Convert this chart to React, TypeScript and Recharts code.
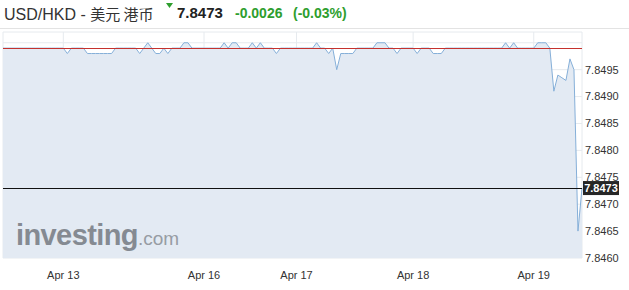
import { AreaChart, Area, XAxis, YAxis, CartesianGrid, ReferenceLine } from 'recharts';

// USD/HKD intraday quotes, one value per sample (left to right)
const prices = [
  7.8499, 7.8499, 7.8499, 7.8499, 7.8499, 7.8499, 7.8499, 7.8499, 7.8499, 7.8499,
  7.8499, 7.8499, 7.8499, 7.8499, 7.8499, 7.8499, 7.8498, 7.8499, 7.8499, 7.8499,
  7.8499, 7.8498, 7.8498, 7.8498, 7.8498, 7.8498, 7.8498, 7.8498, 7.8499, 7.8499,
  7.8499, 7.8499, 7.8499, 7.8499, 7.8498, 7.8499, 7.85, 7.8499, 7.8498, 7.8498,
  7.8499, 7.8498, 7.8499, 7.8499, 7.8499, 7.85, 7.85, 7.8499, 7.8499, 7.8499,
  7.8499, 7.8499, 7.8499, 7.8499, 7.8499, 7.85, 7.8499, 7.85, 7.85, 7.8499,
  7.8499, 7.8499, 7.85, 7.8499, 7.85, 7.8499, 7.8499, 7.8499, 7.8498, 7.8499,
  7.8499, 7.8499, 7.8499, 7.8499, 7.8499, 7.8499, 7.8499, 7.8499, 7.85, 7.8499,
  7.8499, 7.8498, 7.8499, 7.8495, 7.8498, 7.8498, 7.8498, 7.8498, 7.8499, 7.8499,
  7.8499, 7.8499, 7.8499, 7.85, 7.85, 7.85, 7.8499, 7.8499, 7.8498, 7.8499,
  7.8499, 7.8499, 7.8499, 7.8498, 7.8499, 7.8499, 7.8499, 7.8498, 7.8498, 7.8498,
  7.8499, 7.8499, 7.8499, 7.8499, 7.8499, 7.8499, 7.8499, 7.8499, 7.8499, 7.8499,
  7.8499, 7.8499, 7.8499, 7.8499, 7.8499, 7.85, 7.8499, 7.85, 7.8499, 7.8499,
  7.8499, 7.8499, 7.8499, 7.85, 7.85, 7.85, 7.8499, 7.8491, 7.8494, 7.84935,
  7.8493, 7.8497, 7.8495, 7.8465, 7.8473,
];

const dayLabels = ['Apr 13', 'Apr 16', 'Apr 17', 'Apr 18', 'Apr 19'];
const dayStarts = [15, 50, 73, 102, 132];
const priceTicks = [7.846, 7.8465, 7.847, 7.8475, 7.848, 7.8485, 7.849, 7.8495, 7.85];

const prevClose = 7.8499;
const lastPrice = 7.8473;
const change = '-0.0026';
const changePct = '(-0.03%)';

const FONT = "Arial, 'Liberation Sans', sans-serif";
const GREEN = '#2e9e2e';

const data = prices.map((v, i) => ({ i, v }));

// dark price tag on the right axis
const PriceTag = (props: any) => {
  const vb = props.viewBox || {};
  const x = vb.x + vb.width;
  const y = vb.y;
  return (
    <g>
      <rect x={x + 1} y={y - 7} width={36} height={14} fill="#262626" />
      <text x={x + 19} y={y + 4} textAnchor="middle" fill="#fff" fontSize={11} fontWeight="bold" fontFamily={FONT}>
        {lastPrice.toFixed(4)}
      </text>
    </g>
  );
};

export default function App() {
  return (
    <div style={{ position: 'absolute', left: 0, top: 0, width: 629, height: 290, background: '#fff', fontFamily: FONT }}>
      {/* header */}
      <div style={{ position: 'absolute', left: 0, top: 0, width: 629, height: 28, borderBottom: '1px solid #e3e3e3' }}>
        <span style={{ position: 'absolute', left: 4, top: 3, fontSize: 16, color: '#333', whiteSpace: 'nowrap' }}>
          USD/HKD - <span style={{ fontFamily: "'Noto Sans CJK SC', sans-serif", fontSize: 15 }}>美元 港币</span>
        </span>
        <svg style={{ position: 'absolute', left: 166, top: 3 }} width={7} height={6}>
          <polygon points="0,0 7,0 3.5,5" fill={GREEN} />
        </svg>
        <span style={{ position: 'absolute', left: 177, top: 4, fontSize: 15, fontWeight: 'bold', color: '#222' }}>
          {lastPrice.toFixed(4)}
        </span>
        <span style={{ position: 'absolute', left: 235, top: 5, fontSize: 14, fontWeight: 'bold', color: GREEN }}>{change}</span>
        <span style={{ position: 'absolute', left: 293, top: 5, fontSize: 14, fontWeight: 'bold', color: GREEN }}>{changePct}</span>
      </div>

      <AreaChart
        width={629}
        height={290}
        data={data}
        margin={{ top: 32, right: 0, bottom: 0, left: 3 }}
        style={{ position: 'absolute', left: 0, top: 0 }}
      >
        <CartesianGrid stroke="#e6eaee" />
        <XAxis
          dataKey="i"
          type="number"
          domain={[0, prices.length - 1]}
          ticks={dayStarts}
          tickFormatter={(v: number) => dayLabels[dayStarts.indexOf(v)] ?? ''}
          axisLine={false}
          tickLine={false}
          tickMargin={7}
          height={32}
          tick={{ fontSize: 11, fill: '#333', fontFamily: FONT }}
        />
        <YAxis
          orientation="right"
          domain={[7.846, 7.8502]}
          ticks={priceTicks}
          allowDataOverflow
          tickFormatter={(v: number) => (v >= 7.84999 ? '' : v.toFixed(4))}
          axisLine={false}
          tickLine={false}
          tickSize={0}
          tickMargin={3}
          width={47}
          tick={{ fontSize: 11, fill: '#333', fontFamily: FONT, textAnchor: 'start' }}
        />
        <Area
          type="linear"
          dataKey="v"
          stroke="#85afd8"
          strokeWidth={1}
          fill="#e3eaf3"
          fillOpacity={1}
          isAnimationActive={false}
        />
        <ReferenceLine y={prevClose} stroke="#c5322e" strokeWidth={1} shapeRendering="crispEdges" />
        <ReferenceLine y={lastPrice} stroke="#111" strokeWidth={1} shapeRendering="crispEdges" label={<PriceTag />} />
      </AreaChart>

      {/* watermark */}
      <div style={{ position: 'absolute', left: 16, top: 219, whiteSpace: 'nowrap', pointerEvents: 'none' }}>
        <span style={{ fontSize: 29, fontWeight: 'bold', color: '#858a92', letterSpacing: -0.6 }}>investing</span>
        <span style={{ fontSize: 19, color: '#979ca3' }}>.com</span>
      </div>
    </div>
  );
}
